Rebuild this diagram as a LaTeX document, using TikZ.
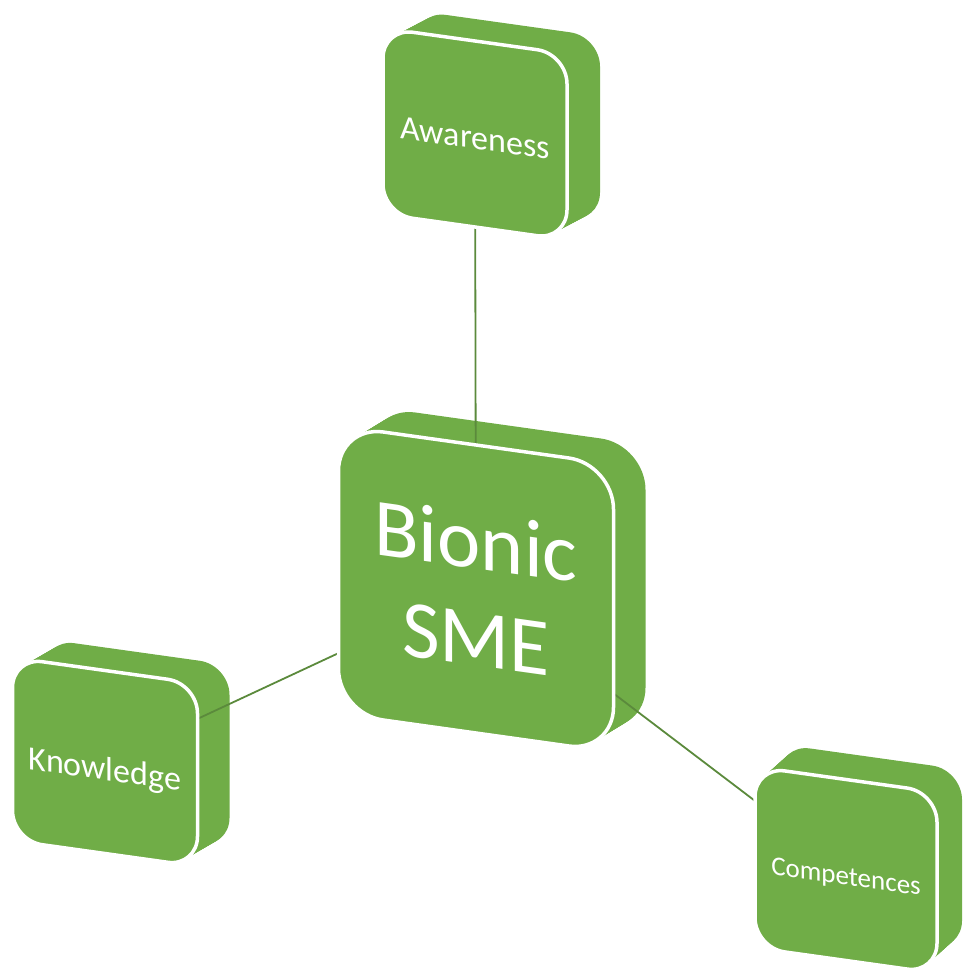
\documentclass[tikz,border=0pt]{standalone}
\usepackage{fontspec}
\setmainfont{Carlito}
\usepackage{xcolor}

\definecolor{boxgreen}{HTML}{70AD47}
\definecolor{linkgreen}{HTML}{5B8A3C}

\pgfdeclarelayer{slabs}
\pgfdeclarelayer{links}
\pgfsetlayers{slabs,links,main}

% back part of a slab: width, height, corner radius, depth x, depth y
\newcommand{\slabback}[5]{%
  \begin{pgfonlayer}{slabs}
  \foreach \k in {0,...,20}
    \fill[boxgreen, rounded corners=#3pt] ({\k/20*(#4)-(#1)/2},{\k/20*(#5)-(#2)/2}) rectangle ++(#1,#2);
  \end{pgfonlayer}}

\begin{document}
\begin{tikzpicture}[x=1pt, y=-1pt,
    face/.style={rectangle, draw=white, line width=3.5pt, fill=boxgreen, text=white, align=center, inner sep=0pt, transform shape},
    small/.style={face, rounded corners=30pt, text height=30pt, text depth=0pt},
    link/.style={draw=linkgreen, line width=1.8pt}
]
\useasboundingbox (0,0) rectangle (963,976);

\begin{scope}[shift={(105,762)}, yslant=-0.14]
  \slabback{185}{183}{30}{32}{-23}
  \node[small, text height=36pt, minimum width=185pt, minimum height=183pt, font=\fontsize{34}{41}\selectfont] (know) at (0,0) {Knowledge};
\end{scope}

\begin{scope}[shift={(846,870)}, yslant=-0.14]
  \slabback{182}{181}{30}{25}{-26}
  \node[small, minimum width=182pt, minimum height=181pt, font=\fontsize{27}{33}\selectfont] (comp) at (0,0) {Competences};
\end{scope}

\begin{scope}[shift={(475,134)}, yslant=-0.14]
  \slabback{184}{186}{30}{33}{-22}
  \node[small, minimum width=184pt, minimum height=186pt, font=\fontsize{34}{41}\selectfont] (aware) at (0,0) {Awareness};
\end{scope}

\begin{scope}[shift={(476,589)}, yslant=-0.14]
  \slabback{275}{288}{45}{32}{-24}
  \node[face, rounded corners=45pt, minimum width=275pt, minimum height=288pt, font=\fontsize{82}{97}\selectfont] (sme) at (0,0) {Bionic\\SME};
\end{scope}

\begin{pgfonlayer}{links}
  \draw[link] (aware.center) -- (sme.center);
  \draw[link] (know.center) -- (sme.center);
  \draw[link] (sme.center) -- (comp.center);
\end{pgfonlayer}
\end{tikzpicture}
\end{document}
